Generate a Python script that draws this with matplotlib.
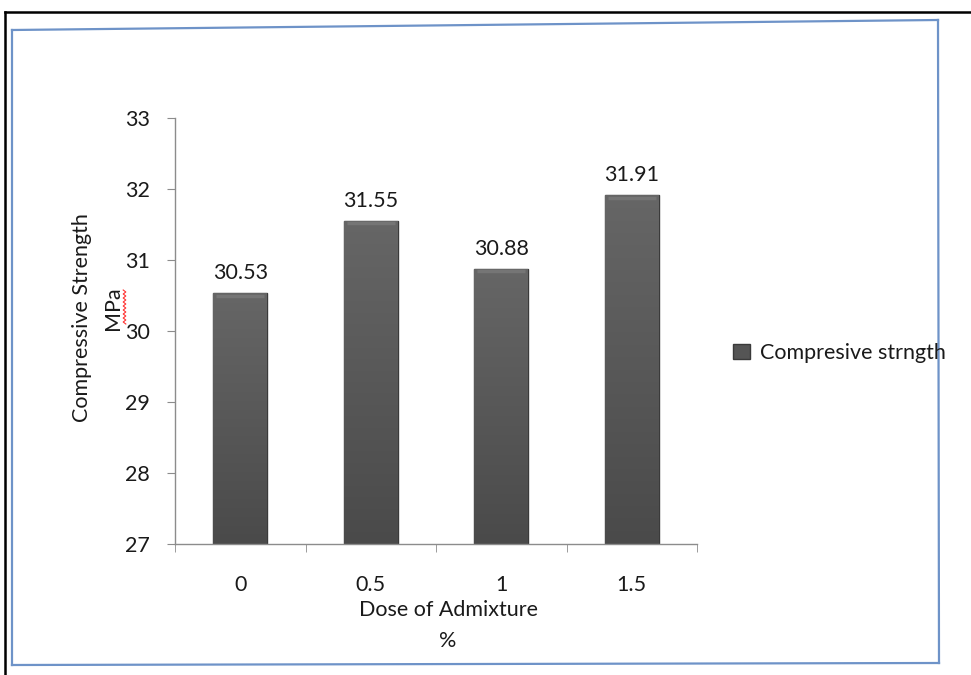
import matplotlib
matplotlib.use("Agg")
import numpy as np
import matplotlib.pyplot as plt
from matplotlib.lines import Line2D
from matplotlib.patches import Patch
from matplotlib.colors import LinearSegmentedColormap

plt.rcParams['font.family'] = ['Lato', 'DejaVu Sans']

doses = ['0', '0.5', '1', '1.5']
strength = [30.53, 31.55, 30.88, 31.91]
series_name = 'Compresive strngth'

TXT = '#1a1a1a'
FS = 15.5

W, H = 971, 675
fig = plt.figure(figsize=(W / 100, H / 100), dpi=100)


def px(x, y):
    # pixel coords (top-left origin) -> figure fraction
    return x / W, 1 - y / H


# outer black frame and inner blue chart border
for (x0, y0), (x1, y1) in [((5, 12), (971, 12)), ((5, 12), (5, 675))]:
    a, b = px(x0, y0)
    c, d = px(x1, y1)
    fig.add_artist(Line2D([a, c], [b, d], color='black', lw=1.8))
for (x0, y0), (x1, y1) in [((12, 30), (938, 20)), ((938, 20), (939, 663)),
                           ((12, 665), (939, 663)), ((12, 30), (12, 665))]:
    a, b = px(x0, y0)
    c, d = px(x1, y1)
    fig.add_artist(Line2D([a, c], [b, d], color='#6e93c8', lw=1.6))

left, right = 175 / W, 697 / W
bottom, top = 1 - 544 / H, 1 - 118 / H
ax = fig.add_axes([left, bottom, right - left, top - bottom])

xs = list(range(len(doses)))
bars = ax.bar(xs, [v - 27 for v in strength], bottom=27, width=0.41,
              color='#555555', edgecolor='#3a3a3a', linewidth=1.0, zorder=2)

# vertical shading on the bars (lighter top, darker bottom)
cmap = LinearSegmentedColormap.from_list('bar', ['#4a4a4a', '#666666'])
grad = np.linspace(0, 1, 256).reshape(-1, 1)
for b in bars:
    x0, y0 = b.get_x(), b.get_y()
    im = ax.imshow(grad, cmap=cmap, aspect='auto', origin='lower',
                   extent=[x0, x0 + b.get_width(), y0, y0 + b.get_height()],
                   zorder=2.5)
    im.set_clip_path(b)
    # soft bevel strip along the top
    ax.plot([x0 + 0.02, x0 + b.get_width() - 0.02],
            [y0 + b.get_height() - 0.035] * 2, color='#7a7a7a', lw=2.5,
            alpha=0.8, zorder=3, solid_capstyle='butt')
ax.set_xlim(-0.5, len(doses) - 0.5)
ax.set_ylim(27, 33)

for x, v in zip(xs, strength):
    ax.text(x, v + 0.14, f'{v:.2f}', ha='center', va='bottom',
            fontsize=FS, color=TXT)

ax.set_yticks(range(27, 34))
ax.set_xticks(xs)
ax.set_xticklabels(doses)
ax.set_xticks([i - 0.5 for i in range(len(doses) + 1)], minor=True)

for s in ['top', 'right']:
    ax.spines[s].set_visible(False)
for s in ['left', 'bottom']:
    ax.spines[s].set_color('#8c8c8c')
    ax.spines[s].set_linewidth(1.0)

ax.tick_params(axis='y', direction='out', length=6, color='#8c8c8c',
               labelsize=FS, labelcolor=TXT, pad=12)
ax.tick_params(axis='x', which='major', length=0, labelsize=FS,
               labelcolor=TXT, pad=22)
ax.tick_params(axis='x', which='minor', direction='out', length=6,
               color='#8c8c8c')

fig.text(*px(448, 610), 'Dose of Admixture', ha='center', va='center',
         fontsize=FS, color=TXT)
fig.text(*px(448, 641), '%', ha='center', va='center',
         fontsize=FS, color=TXT)
fig.text(*px(82, 318), 'Compressive Strength', rotation=90, ha='center',
         va='center', fontsize=FS, color=TXT)
fig.text(*px(113, 308), 'MPa', rotation=90, ha='center', va='center',
         fontsize=FS, color=TXT)

# spell-check squiggle under "MPa"
sy = np.linspace(290, 324, 18)
sx = 124.5 + np.where(np.arange(18) % 2 == 0, -1.3, 1.3)
fig.add_artist(Line2D(sx / W, 1 - sy / H, color='#ff3030', lw=0.8))

handle = Patch(facecolor='#555555', edgecolor='#3a3a3a', label=series_name)
fig.legend(handles=[handle], loc='center left', bbox_to_anchor=px(714, 353),
           frameon=False, fontsize=FS, handlelength=0.75, handleheight=0.75,
           handletextpad=0.5, labelcolor=TXT)

fig.savefig('out.png', dpi=100)
